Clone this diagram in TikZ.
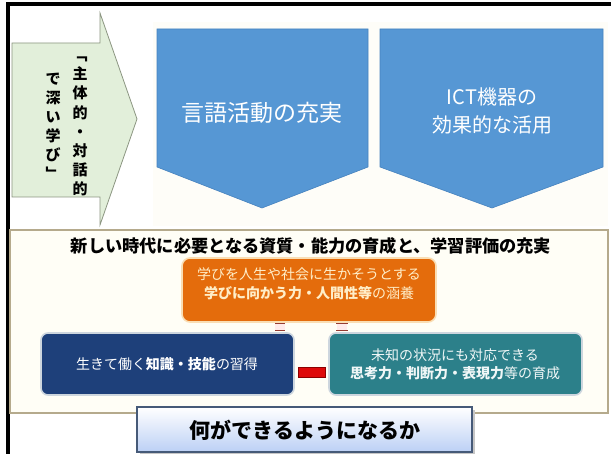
\documentclass[tikz,border=0pt]{standalone}
\usepackage{fontspec}
\setmainfont{Noto Sans CJK JP}
\usetikzlibrary{positioning,calc}
\definecolor{penta}{RGB}{86,151,212}
\definecolor{pentaedge}{RGB}{70,130,190}
\definecolor{arrowfill}{RGB}{226,239,218}
\definecolor{arrowedge}{RGB}{140,150,130}
\definecolor{panelfill}{RGB}{255,254,246}
\definecolor{paneledge}{RGB}{181,170,140}
\definecolor{orangefill}{RGB}{228,108,12}
\definecolor{orangeedge}{RGB}{250,222,180}
\definecolor{orangetext}{RGB}{255,238,200}
\definecolor{navyfill}{RGB}{30,64,122}
\definecolor{tealfill}{RGB}{44,128,138}
\definecolor{boxedge}{RGB}{205,214,222}
\definecolor{markedge}{RGB}{150,60,50}
\definecolor{barred}{RGB}{222,10,10}
\definecolor{bardark}{RGB}{140,0,0}
\definecolor{lowblue}{RGB}{188,208,245}
\definecolor{lowedge}{RGB}{70,90,120}
\definecolor{creambg}{RGB}{254,253,248}
\tikzset{
  pentastyle/.style={fill=penta,draw=pentaedge,line width=0.6pt},
  pentatext/.style={text=white,align=center,inner sep=0pt},
  innerbox/.style={rounded corners=7pt,draw=boxedge,line width=1.6pt},
  boxtext/.style={align=center,inner sep=0pt,font=\fontsize{14}{18.5}\selectfont},
  linkdash/.style={draw=markedge,line width=1.2pt}
}
\begin{document}
\begin{tikzpicture}[x=1pt,y=-1pt]
\useasboundingbox (0,0) rectangle (611,454);
\fill[white] (0,0) rectangle (611,454);
% black frame
\fill[black] (6,2) rectangle (611,6);
\fill[black] (6,2) rectangle (9.5,454);
% cream background behind pentagons
\fill[creambg] (153,22) rectangle (608,226);
% left arrow
\draw[fill=arrowfill,draw=arrowedge,line width=0.8pt]
  (12,43) -- (100,43) -- (100,13) -- (137,119) -- (100,225) -- (100,197) -- (12,197) -- cycle;
\node[align=center,inner sep=0pt,font=\bfseries\fontsize{15}{19.1}\selectfont] (colA) at (80,126.5)
  {﹁\\主\\体\\的\\・\\対\\話\\的};
\node[align=center,inner sep=0pt,font=\bfseries\fontsize{15}{19.1}\selectfont] (colB) at (53,126.5)
  {で\\深\\い\\学\\び\\﹂};
% pentagons
\draw[pentastyle] (157,29) -- (368,29) -- (368,167) -- (262,208) -- (157,167) -- cycle;
\draw[pentastyle] (380,29) -- (603,29) -- (603,167) -- (492,208) -- (380,167) -- cycle;
\node[pentatext,font=\fontsize{23}{28}\selectfont] (lang) at (262,113) {言語活動の充実};
\node[pentatext,font=\fontsize{20}{28}\selectfont] (ict) at (492,111) {ICT機器の\\効果的な活用};
% panel
\draw[fill=panelfill,draw=paneledge,line width=1.5pt] (10,230) rectangle (608,413);
\node[inner sep=0pt,font=\bfseries\fontsize{17.2}{20}\selectfont] (title) at (311,246)
  {新しい時代に必要となる資質・能力の育成と、学習評価の充実};
% orange box
\draw[fill=orangefill,draw=orangeedge,line width=1.6pt,rounded corners=8pt] (182,258) rectangle (436,322);
\node[boxtext,text=orangetext] (orange) at (309,284)
  {学びを人生や社会に生かそうとする\\\textbf{学びに向かう力・人間性等}の涵養};
\coordinate (ob) at (309,323.5);
% navy and teal boxes
\draw[innerbox,fill=navyfill] (41,333) rectangle (294,395);
\node[boxtext,text=white] (navy) at (167,364) {生きて働く\textbf{知識・技能}の習得};
\draw[innerbox,fill=tealfill] (329,333) rectangle (582,395);
\node[boxtext,text=white!94!teal] (teal) at (455,364.5)
  {未知の状況にも対応できる\\\textbf{思考力・判断力・表現力}等の育成};
\coordinate (nt) at (167,330.5);
\coordinate (tt) at (455,330.5);
% small connectors between orange box and lower boxes (only their ends show)
\coordinate (m1) at (280,0);
\coordinate (m2) at (342,0);
\fill[white!92!red] ($(ob -| m1)+(-5,0)$) rectangle ($(nt -| m1)+(5,0)$);
\fill[white!92!red] ($(ob -| m2)+(-5,0)$) rectangle ($(tt -| m2)+(5,0)$);
\draw[linkdash] ($(ob -| m1)+(-5,0)$) -- ($(ob -| m1)+(5,0)$);
\draw[linkdash] ($(nt -| m1)+(-5,0)$) -- ($(nt -| m1)+(5,0)$);
\draw[linkdash] ($(ob -| m2)+(-6,0)$) -- ($(ob -| m2)+(6,0)$);
\draw[linkdash] ($(tt -| m2)+(-6,0)$) -- ($(tt -| m2)+(6,0)$);
% red bar between navy and teal
\coordinate (ne) at (294,372);
\coordinate (tw) at (329,372);
\draw[fill=barred,draw=bardark,line width=0.6pt] ($(ne)+(4,-5)$) rectangle ($(tw)+(-4,5)$);
% bottom box
\fill[gray!45] (140,410) rectangle (475,455);
\shade[top color=white,bottom color=lowblue,draw=lowedge,line width=1.5pt] (137,407) rectangle (472,452);
\node[inner sep=0pt,font=\bfseries\fontsize{21}{24}\selectfont] (what) at (305,430) {何ができるようになるか};
\end{tikzpicture}
\end{document}
